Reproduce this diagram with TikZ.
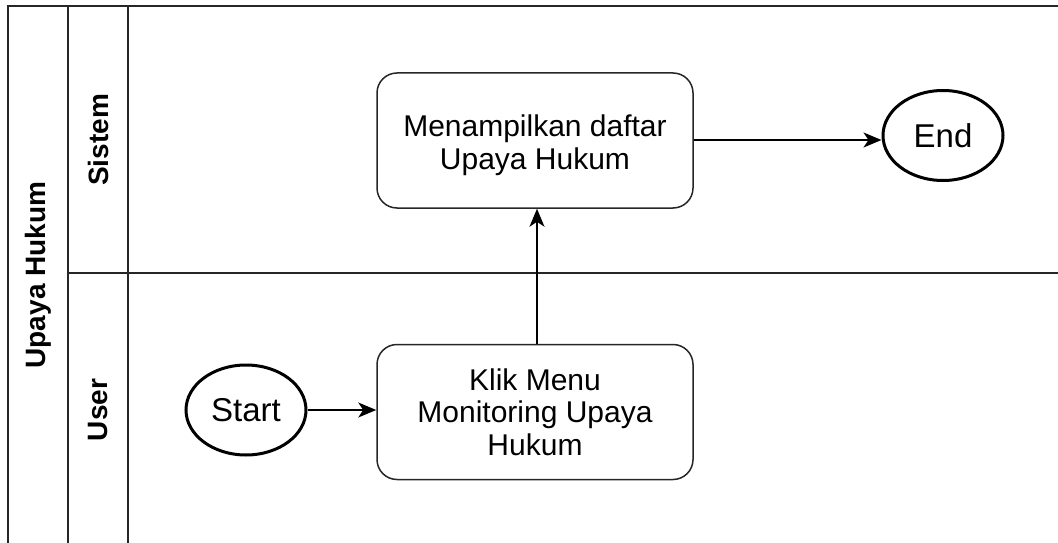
\documentclass[tikz,border=0pt]{standalone}
\usepackage{fontspec}
\setmainfont{Liberation Sans}
\usetikzlibrary{arrows.meta,shapes.geometric}
\begin{document}
\begin{tikzpicture}[x=1pt,y=-1pt,
  lane/.style={line width=1.8pt, draw=black!85},
  lanelabel/.style={font=\fontsize{28}{30}\selectfont\bfseries, rotate=90, inner sep=0pt},
  act/.style={draw=black!85, line width=1.5pt, rounded corners=20pt, minimum width=316pt, minimum height=135pt, align=center, font=\fontsize{30}{32.5}\selectfont, text=black},
  term/.style={draw=black, line width=3pt, ellipse, minimum width=120pt, minimum height=90pt, inner sep=0pt, font=\fontsize{33}{36}\selectfont, text=black},
  flow/.style={draw=black, line width=1.5pt, -{Stealth[length=18pt,width=15pt,inset=5pt]}}
]
\useasboundingbox (0,0) rectangle (1058,543);
\clip (0,0) rectangle (1058,543);
\fill[white] (0,0) rectangle (1058,543);
% pool frame
\draw[lane] (8,560) -- (8,6) -- (1080,6);
\draw[lane] (68,6) -- (68,560);
\draw[lane] (128,6) -- (128,560);
\draw[lane] (68,273) -- (1080,273);
% labels
\node[lanelabel] (pool) at (38,275) {Upaya Hukum};
\node[lanelabel] (sis) at (98,140) {Sistem};
\node[lanelabel] (usr) at (98,410) {User};
% nodes
\node[act] (tampil) at (535,140.5) {};
\node[align=center, font=\fontsize{30}{32.5}\selectfont] (tampiltxt) at (535,145) {Menampilkan daftar\\Upaya Hukum};
\node[act] (klik) at (535,412) {Klik Menu\\Monitoring Upaya\\Hukum};
\node[term] (start) at (246,410) {Start};
\node[term] (end) at (943,135.5) {End};
% flows
\draw[flow] (start) -- (klik.west |- start);
\draw[flow] (klik.north -| 537,0) -- (tampil.south -| 537,0);
\draw[flow] (tampil.east |- 0,140) -- (end.west |- 0,140);
\end{tikzpicture}
\end{document}
